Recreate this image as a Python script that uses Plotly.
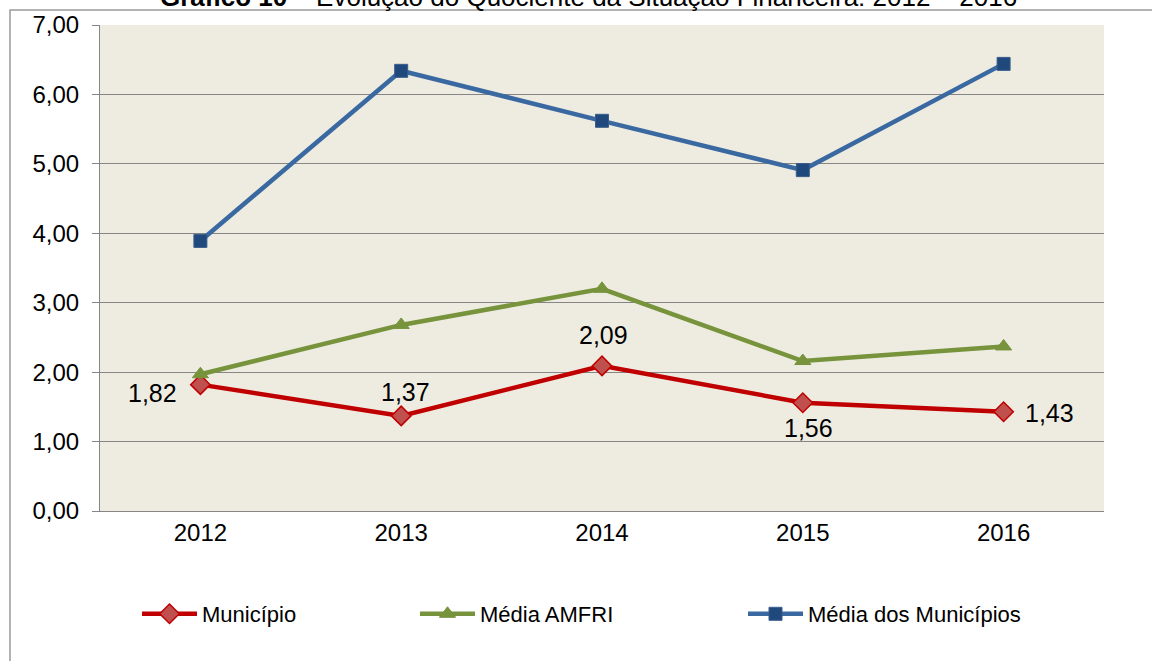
import plotly.graph_objects as go

years = ["2012", "2013", "2014", "2015", "2016"]
municipio = [1.82, 1.37, 2.09, 1.56, 1.43]
media_amfri = [1.97, 2.68, 3.20, 2.16, 2.37]
media_municipios = [3.89, 6.34, 5.62, 4.91, 6.44]

# label placement (style only)
lab_anchor = ["right", "center", "center", "center", "left"]
lab_dx = [-21, 4, 1, 6, 19]
lab_dy = [-8, 24, 31, -25, -1]

W, H = 1152, 661
L, R, T, B = 100, 48, 25, 150
pw, ph = W - L - R, H - T - B

def px_x(x):
    return (x - L) / pw

def px_y(y):
    return (H - B - y) / ph

FAM = "Liberation Sans, Arial"

fig = go.Figure()
fig.add_trace(go.Scatter(
    x=years, y=municipio, name="Município", mode="lines+markers",
    line=dict(color="#C00000", width=4.5),
    marker=dict(symbol="diamond", size=15, color="#C0504D", line=dict(color="#C00000", width=1.5)),
    legend="legend",
))
fig.add_trace(go.Scatter(
    x=years, y=media_amfri, name="Média AMFRI", mode="lines+markers",
    line=dict(color="#77933C", width=4.5),
    marker=dict(symbol="triangle-up", size=14, color="#77933C", line=dict(color="#77933C", width=1)),
    legend="legend2",
))
fig.add_trace(go.Scatter(
    x=years, y=media_municipios, name="Média dos Municípios", mode="lines+markers",
    line=dict(color="#3A68A0", width=4.5),
    marker=dict(symbol="square", size=13, color="#1F497D", line=dict(color="#385D8A", width=1)),
    legend="legend3",
))

annotations = []
for i, (v, a, dx, dy) in enumerate(zip(municipio, lab_anchor, lab_dx, lab_dy)):
    annotations.append(dict(xref="x", yref="y", x=i, y=v, text=f"{v:.2f}".replace(".", ","),
                            showarrow=False, xanchor=a, yanchor="middle", xshift=dx, yshift=dy,
                            font=dict(family=FAM, size=25, color="#000000")))
annotations.append(dict(xref="paper", yref="paper", x=px_x(588), y=px_y(-3),
                        xanchor="center", yanchor="middle", showarrow=False,
                        text="<b>Gráfico 10</b> – Evolução do Quociente da Situação Financeira: 2012 – 2016",
                        font=dict(family=FAM, size=26, color="#000000")))

tickfont = dict(family=FAM, size=24, color="#000000")
legfont = dict(family=FAM, size=22, color="#000000")
leg_common = dict(orientation="h", xanchor="left", yanchor="middle", y=px_y(614),
                  font=legfont, itemwidth=55, bgcolor="rgba(0,0,0,0)", borderwidth=0)

fig.update_layout(
    width=W, height=H,
    margin=dict(l=L, r=R, t=T, b=B, autoexpand=False),
    paper_bgcolor="#FFFFFF",
    plot_bgcolor="#EEECE1",
    separators=",.",
    font=tickfont,
    showlegend=True,
    legend=dict(x=px_x(137), **leg_common),
    legend2=dict(x=px_x(415), **leg_common),
    legend3=dict(x=px_x(743), **leg_common),
    xaxis=dict(type="category", range=[-0.5, 4.5], showgrid=False, showline=True,
               linecolor="#868686", linewidth=1, ticks="", tickfont=tickfont,
               zeroline=False),
    yaxis=dict(range=[0, 7], dtick=1, tickformat=".2f", showgrid=True, gridcolor="#868686",
               gridwidth=1, showline=True, linecolor="#868686", linewidth=1, ticks="outside",
               ticklen=7, tickcolor="#868686", tickfont=tickfont, zeroline=False,
               ticklabelstandoff=8),
    shapes=[dict(type="rect", xref="paper", yref="paper",
                 x0=px_x(10), x1=px_x(1200), y0=px_y(700), y1=px_y(10),
                 line=dict(color="#9A9A9A", width=1.5), fillcolor="rgba(0,0,0,0)", layer="below")],
    annotations=annotations,
)

fig.write_html("out.html", config={"displayModeBar": False},
               post_script="document.body.style.margin='0';document.body.style.overflow='hidden';")
